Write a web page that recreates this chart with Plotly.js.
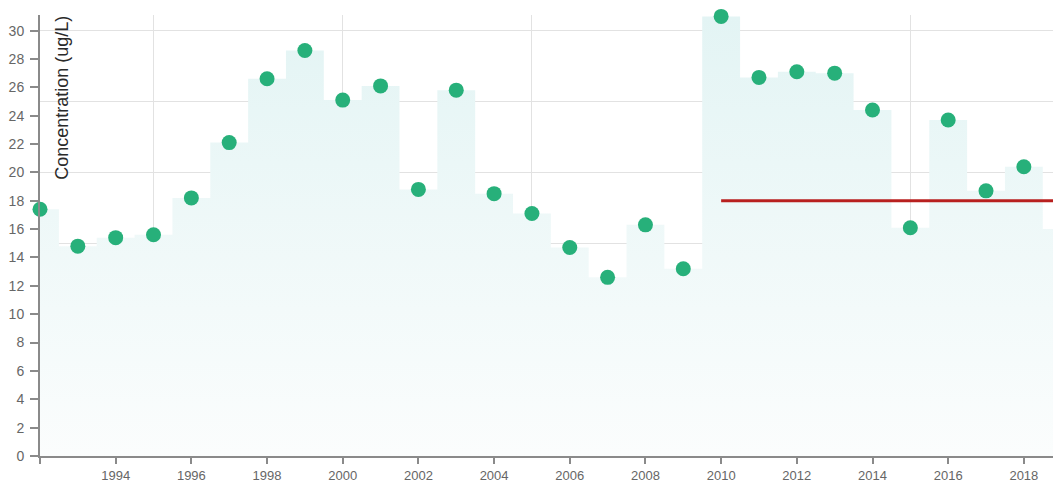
<!DOCTYPE html>
<html>
<head>
<meta charset="utf-8">
<script src="https://cdn.plot.ly/plotly-3.0.1.min.js"></script>
<style>
  html, body { margin: 0; padding: 0; background: #fff; }
  #chart { width: 1053px; height: 482px; }
</style>
</head>
<body>
<div id="chart"></div>
<script>
// ---- data ----
const years = [1992, 1993, 1994, 1995, 1996, 1997, 1998, 1999, 2000, 2001,
               2002, 2003, 2004, 2005, 2006, 2007, 2008, 2009, 2010, 2011,
               2012, 2013, 2014, 2015, 2016, 2017, 2018, 2019];
const concentration = [17.4, 14.8, 15.4, 15.6, 18.2, 22.1, 26.6, 28.6, 25.1, 26.1,
                       18.8, 25.8, 18.5, 17.1, 14.7, 12.6, 16.3, 13.2, 31.0, 26.7,
                       27.1, 27.0, 24.4, 16.1, 23.7, 18.7, 20.4, 16.0];
const thresholdYears = [2010, 2019];
const thresholdValues = [18, 18];

const xTickVals = [1992, 1994, 1996, 1998, 2000, 2002, 2004, 2006, 2008, 2010, 2012, 2014, 2016, 2018];
const xTickText = ['', '1994', '1996', '1998', '2000', '2002', '2004', '2006', '2008', '2010', '2012', '2014', '2016', '2018'];
const yTickVals = [0, 2, 4, 6, 8, 10, 12, 14, 16, 18, 20, 22, 24, 26, 28, 30];
const yTickText = ['0', '2', '4', '6', '8', '10', '12', '14', '16', '18', '20', '22', '24', '26', '28', '30'];
const yTitle = 'Concentration (ug/L)';

// ---- chart ----
const FONT = 'Arial, "Liberation Sans", sans-serif';
const xRange = [1992, 2018.77];
const yRange = [0, 31.1];

const traces = [
  { // grid helper subplot (no data)
    x: [], y: [], xaxis: 'x2', yaxis: 'y2', type: 'scatter', mode: 'markers',
    showlegend: false, hoverinfo: 'skip'
  },
  { // stepped area
    x: years, y: concentration, type: 'scatter', mode: 'lines',
    line: { shape: 'hvh', width: 0, color: 'rgba(0,0,0,0)' },
    fill: 'tozeroy',
    fillcolor: '#e8f6f6',
    fillgradient: {
      type: 'vertical', start: 0, stop: 31,
      colorscale: [[0, '#fbfdfd'], [1, '#e3f4f4']]
    },
    showlegend: false, hoverinfo: 'skip'
  },
  { // threshold line
    x: thresholdYears, y: thresholdValues, type: 'scatter', mode: 'lines',
    line: { color: '#b8201f', width: 3 },
    showlegend: false
  },
  { // points
    x: years, y: concentration, type: 'scatter', mode: 'markers',
    marker: { size: 15, color: '#27b07a' },
    cliponaxis: false,
    showlegend: false
  }
];

const axisCommon = {
  showline: true, linecolor: '#8a8a8a', linewidth: 2,
  ticks: 'outside', tickcolor: '#8a8a8a', tickwidth: 2,
  showgrid: false, zeroline: false,
  fixedrange: true
};

const layout = {
  width: 1053, height: 482,
  margin: { l: 39.6, r: 0, t: 15, b: 26.3, pad: 0 },
  paper_bgcolor: '#ffffff', plot_bgcolor: '#ffffff',
  font: { family: FONT },
  showlegend: false,
  xaxis: Object.assign({}, axisCommon, {
    range: xRange, tickmode: 'array', tickvals: xTickVals, ticktext: xTickText,
    ticklen: 6, ticklabelstandoff: 0,
    tickfont: { family: FONT, size: 13, color: '#666' }
  }),
  yaxis: Object.assign({}, axisCommon, {
    range: yRange, tickmode: 'array', tickvals: yTickVals, ticktext: yTickText,
    ticklen: 8, ticklabelstandoff: 3,
    tickfont: { family: FONT, size: 14, color: '#666' }
  }),
  xaxis2: {
    overlaying: 'x', anchor: 'y2', range: xRange, tickmode: 'linear', tick0: 1995, dtick: 5,
    showgrid: true, gridcolor: '#e2e2e2', gridwidth: 1,
    showticklabels: false, ticks: '', showline: false, zeroline: false, fixedrange: true
  },
  yaxis2: {
    overlaying: 'y', anchor: 'x2', range: yRange, tickmode: 'linear', tick0: 0, dtick: 5,
    showgrid: true, gridcolor: '#e2e2e2', gridwidth: 1,
    showticklabels: false, ticks: '', showline: false, zeroline: false, fixedrange: true
  },
  annotations: [{
    text: yTitle, textangle: -90,
    xref: 'paper', yref: 'paper', x: 0.0216, y: 0.812,
    xanchor: 'center', yanchor: 'middle', showarrow: false,
    font: { family: FONT, size: 18, color: '#2a2a2a' }
  }]
};

Plotly.newPlot('chart', traces, layout, { displayModeBar: false, staticPlot: true });
</script>
</body>
</html>
